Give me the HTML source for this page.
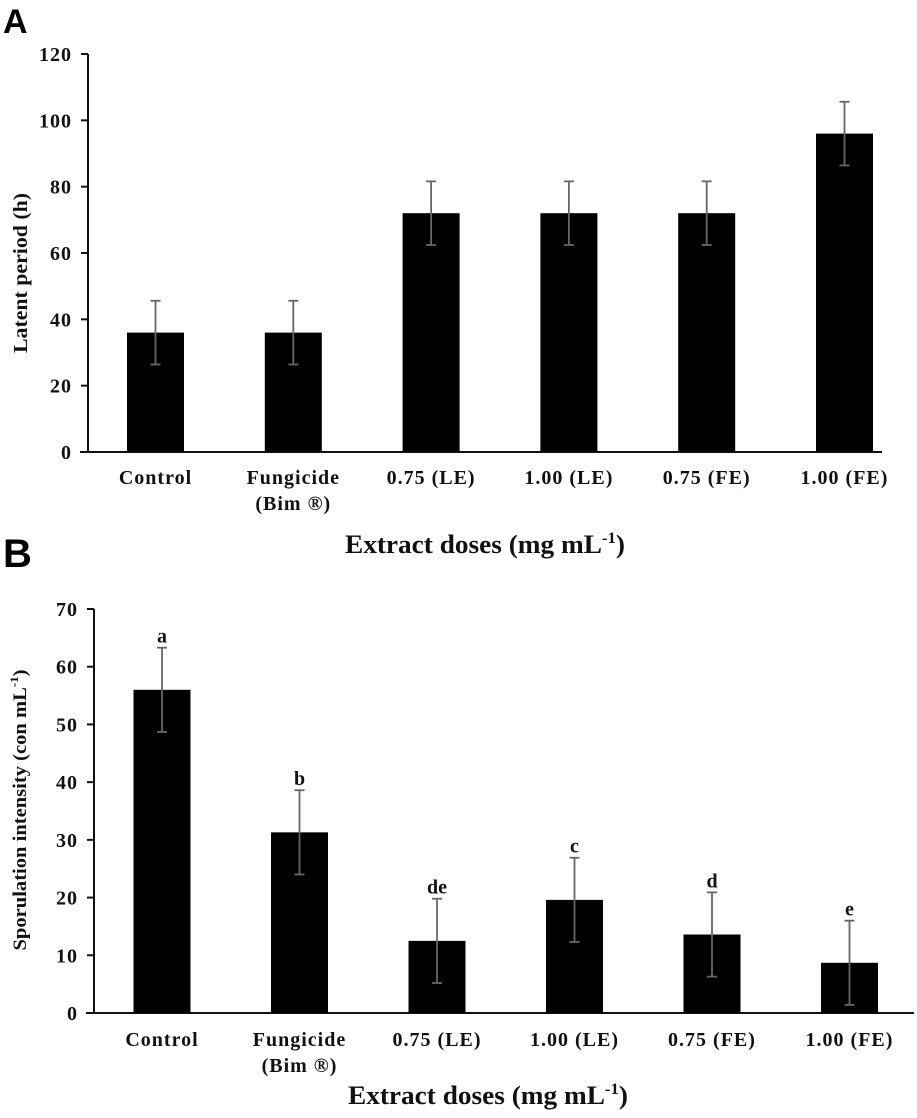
<!DOCTYPE html>
<html><head><meta charset="utf-8">
<style>
html,body{margin:0;padding:0;background:#fff;}
svg{display:block;}
text{font-family:"Liberation Serif",serif;font-weight:bold;fill:#111;}
.panel{font-family:"Liberation Sans",sans-serif;fill:#000;}
</style></head>
<body>
<svg id="chart" width="917" height="1118" viewBox="0 0 917 1118" xmlns="http://www.w3.org/2000/svg">
<text class="panel" x="3" y="33" font-size="34">A</text>
<text class="panel" x="3" y="567" font-size="40">B</text>
</svg>
<script>
const categories = ["Control", "Fungicide|(Bim ®)", "0.75  (LE)", "1.00 (LE)", "0.75  (FE)", "1.00  (FE)"];
const latentValues = [36, 36, 72, 72, 72, 96];
const latentErrors = [9.6, 9.6, 9.6, 9.6, 9.6, 9.6];
const latentTicks = [0, 20, 40, 60, 80, 100, 120];
const sporValues = [56, 31.3, 12.5, 19.6, 13.6, 8.7];
const sporErrors = [7.3, 7.3, 7.3, 7.3, 7.3, 7.3];
const sporLetters = ["a", "b", "de", "c", "d", "e"];
const sporTicks = [0, 10, 20, 30, 40, 50, 60, 70];

const svg = document.getElementById('chart');
const NS = 'http://www.w3.org/2000/svg';
function mk(tag, attrs, txt){
  const e = document.createElementNS(NS, tag);
  for (const k in attrs) e.setAttribute(k, attrs[k]);
  if (txt !== undefined) e.textContent = txt;
  svg.appendChild(e);
  return e;
}

function drawPanel(cfg){
  const y = v => cfg.y0 - (v - cfg.min) / (cfg.max - cfg.min) * (cfg.y0 - cfg.yTop);
  const x = i => cfg.x0 + cfg.step * i;
  let ax = mk('line', {x1: cfg.axisX, y1: cfg.yTop, x2: cfg.axisX, y2: cfg.y0, stroke: '#111', 'stroke-width': 2});
  
  
  let bx = mk('line', {x1: cfg.axisX - 8, y1: cfg.y0, x2: cfg.axisEnd, y2: cfg.y0, stroke: '#111', 'stroke-width': 2});
  
  
  cfg.ticks.forEach(t => {
    const tl = mk('line', {x1: cfg.axisX - 7, y1: y(t), x2: cfg.axisX, y2: y(t), stroke: '#111', 'stroke-width': 2});
    
    
    const tx = mk('text', {x: cfg.axisX - 16, y: y(t) + 7, 'text-anchor': 'end', 'font-size': 20, 'letter-spacing': 1}, String(t));
    
    
  });
  cfg.values.forEach((v, i) => {
    const cx = x(i);
    const r = mk('rect', {x: cx - cfg.bw / 2, y: y(v), width: cfg.bw, height: cfg.y0 - y(v), fill: '#000'});
    
    
    const hi = y(v + cfg.errors[i]), lo = y(v - cfg.errors[i]);
    const g = [[cx, hi, cx, lo], [cx - 5, hi, cx + 5, hi], [cx - 5, lo, cx + 5, lo]];
    g.forEach(s => {
      const l = mk('line', {x1: s[0], y1: s[1], x2: s[2], y2: s[3], stroke: '#666', 'stroke-width': 1.8});
      
      
    });
    if (cfg.letters) {
      const lt = mk('text', {x: cx, y: hi - 5, 'text-anchor': 'middle', 'font-size': 20}, cfg.letters[i]);
      
      
    }
    const parts = categories[i].split('|');
    parts.forEach((p, k) => {
      const ct = mk('text', {x: cx, y: cfg.labelY + k * 26, 'text-anchor': 'middle', 'font-size': 20, 'letter-spacing': 1, 'xml:space': 'preserve'}, p);
      
      
    });
  });
  const xt = mk('text', {x: cfg.titleX, y: cfg.titleY, 'text-anchor': 'middle', 'font-size': 26, textLength: 280, lengthAdjust: 'spacingAndGlyphs'});
  
  
  xt.innerHTML = 'Extract doses (mg mL<tspan font-size="16" dy="-10">-1</tspan><tspan dy="10">)</tspan>';
  const yt = mk('text', {x: 0, y: 0, 'text-anchor': 'middle', 'font-size': cfg.ytSize, textLength: cfg.ytLen, lengthAdjust: 'spacingAndGlyphs', transform: 'translate(' + cfg.ytX + ',' + cfg.ytY + ') rotate(-90)'});
  
  
  yt.innerHTML = cfg.ytitle;
}

drawPanel({id: 'latent', values: latentValues, errors: latentErrors, ticks: latentTicks,
  min: 0, max: 120, y0: 452, yTop: 54, axisX: 88, axisEnd: 882, x0: 155.5, step: 137.8, bw: 57,
  labelY: 484, titleX: 485, titleY: 553, ytX: 27, ytY: 273, ytSize: 20, ytLen: 160, ytitle: 'Latent period (h)'});
drawPanel({id: 'sporulation', values: sporValues, errors: sporErrors, ticks: sporTicks, letters: sporLetters,
  min: 0, max: 70, y0: 1013, yTop: 609, axisX: 94, axisEnd: 914, x0: 162, step: 137.5, bw: 57,
  labelY: 1046, titleX: 488, titleY: 1104, ytX: 26, ytY: 810, ytSize: 19, ytLen: 281,
  ytitle: 'Sporulation intensity (con mL<tspan font-size="12" dy="-8">-1</tspan><tspan dy="8">)</tspan>'});
</script>
</body></html>
